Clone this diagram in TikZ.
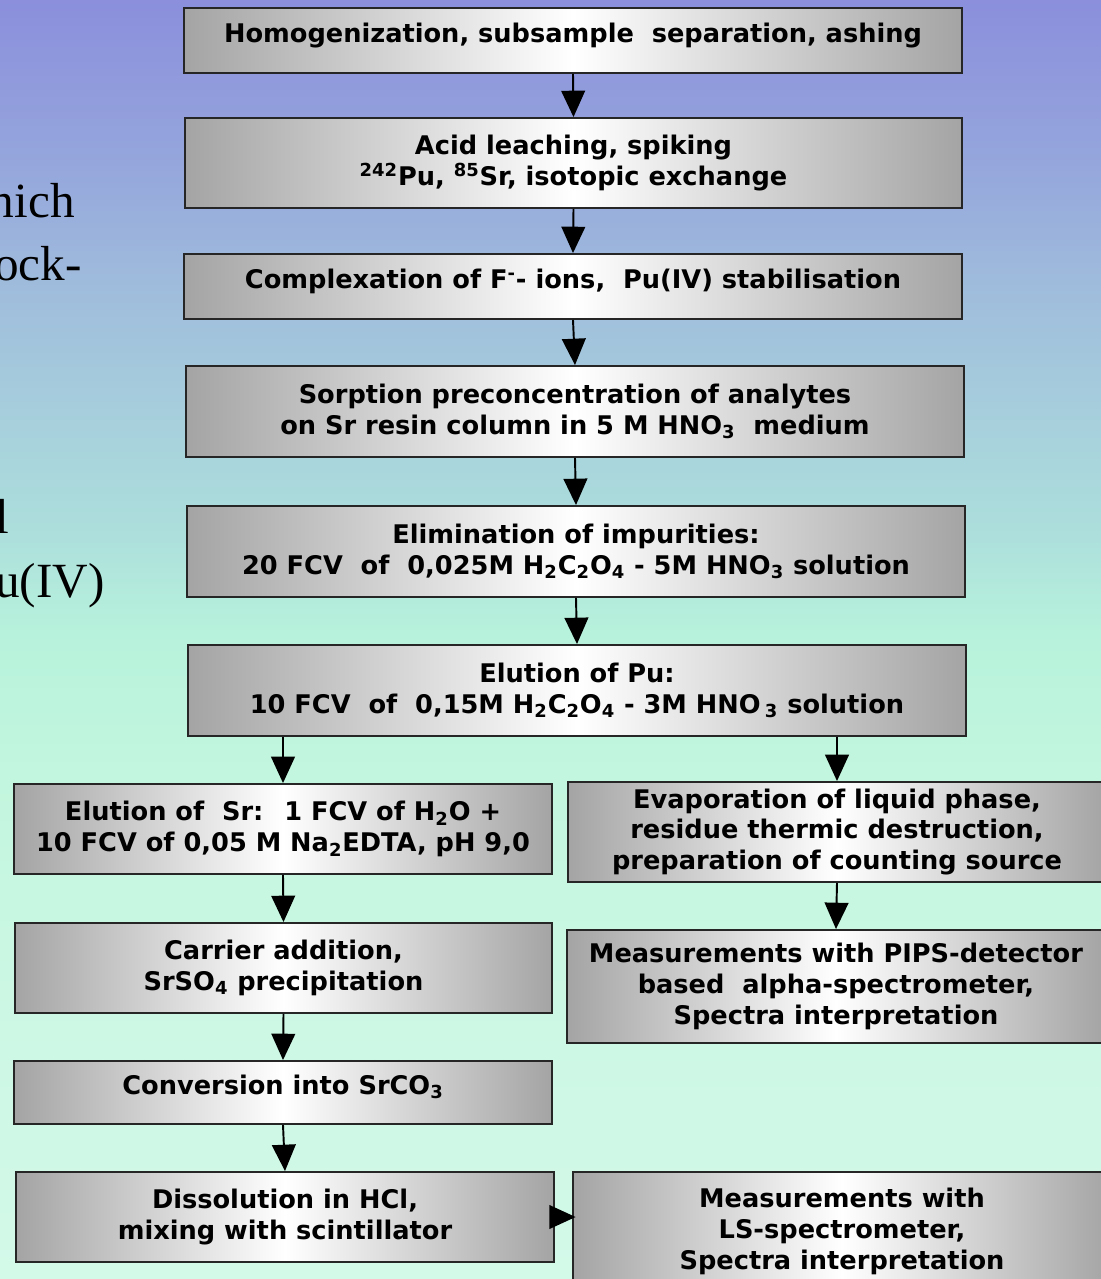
\documentclass[tikz,border=0pt]{standalone}
\usepackage{fontspec}
\usepackage{tikz}
\usetikzlibrary{arrows.meta, positioning}
\newfontfamily\flowfont{DejaVu Sans}
\newfontfamily\slidefont{Liberation Serif}

\definecolor{boxgray}{HTML}{A4A4A4}
\definecolor{bgA}{HTML}{8B8FDC}
\definecolor{bgB}{HTML}{94A4DC}
\definecolor{bgC}{HTML}{A0BEDC}
\definecolor{bgD}{HTML}{ADE0DC}
\definecolor{bgE}{HTML}{B7F2DC}
\definecolor{bgF}{HTML}{C3F6DE}
\definecolor{bgG}{HTML}{CFF8E6}
\definecolor{bgH}{HTML}{D3F9E9}
\pgfdeclareverticalshading{bgfade}{100bp}{color(0bp)=(bgH); color(25bp)=(bgH);
  color(32bp)=(bgG); color(44.5bp)=(bgF); color(50.3bp)=(bgE); color(53.9bp)=(bgD);
  color(63.3bp)=(bgC); color(69.1bp)=(bgB); color(75bp)=(bgA); color(100bp)=(bgA)}

\begin{document}
\begin{tikzpicture}[x=0.02cm, y=-0.02cm, >={Triangle[width=13.5pt,length=15pt]},
  stepbox/.style={draw=black!85, line width=1.1pt, left color=boxgray, right color=boxgray,
    middle color=white, align=center, inner sep=0pt,
    font=\flowfont\bfseries\fontsize{14.6}{17.6}\selectfont},
  widebox/.style={stepbox, minimum width=15.56cm},
  halfbox/.style={stepbox, minimum width=10.76cm},
  oneline/.style={text depth=9pt},
  arr/.style={->, line width=1.1pt},
  sidetext/.style={anchor=base east, inner sep=0pt, font=\slidefont\fontsize{28}{34}\selectfont}]
  % background
  \path[use as bounding box, shading=bgfade] (0,0) rectangle (1101,1279);
  % cut text on the left
  \node[sidetext] (s1) at (75,217) {hich};
  \node[sidetext] (s2) at (82,280) {ock-};
  \node[sidetext] (s3) at (10,533) {l};
  \node[sidetext] (s4) at (105,597) {u(IV)};
  % common steps
  \node[widebox, oneline, minimum height=1.3cm] (hom) at (573,40.5)
    {Homogenization, subsample~ separation, ashing};
  \node[widebox, minimum height=1.8cm] (acid) at (573.5,163)
    {Acid leaching, spiking\\ \textsuperscript{242}Pu, \textsuperscript{85}Sr, isotopic exchange};
  \node[widebox, oneline, minimum height=1.3cm] (cplx) at (573,286.5)
    {Complexation of F\textsuperscript{-}- ions,~ Pu(IV) stabilisation};
  \node[widebox, minimum height=1.82cm] (sorp) at (575,411.5)
    {Sorption preconcentration of analytes\\ on Sr resin column in 5 M HNO\textsubscript{3}~ medium};
  \node[widebox, minimum height=1.82cm] (elim) at (576,551.5)
    {Elimination of impurities:\\ 20 FCV~ of~ 0,025M H\textsubscript{2}C\textsubscript{2}O\textsubscript{4} - 5M HNO\textsubscript{3} solution};
  \node[widebox, minimum height=1.82cm] (elpu) at (577,690.5)
    {Elution of Pu:\\ 10 FCV~ of~ 0,15M H\textsubscript{2}C\textsubscript{2}O\textsubscript{4} - 3M HNO\,\textsubscript{3} solution};
  % Sr branch
  \node[halfbox, minimum height=1.8cm] (elsr) at (283,829)
    {Elution of~ Sr:~ 1 FCV of H\textsubscript{2}O +\\ 10 FCV of 0,05 M Na\textsubscript{2}EDTA, pH 9,0};
  \node[halfbox, minimum height=1.8cm] (carr) at (283.5,968)
    {Carrier addition,\\ SrSO\textsubscript{4} precipitation};
  \node[halfbox, oneline, minimum height=1.26cm] (conv) at (283,1092.5)
    {Conversion into SrCO\textsubscript{3}};
  \node[halfbox, minimum height=1.8cm] (diss) at (285,1217)
    {Dissolution in HCl,\\ mixing with scintillator};
  \node[halfbox, minimum height=2.36cm] (lsm) at (842,1231)
    {Measurements with\\ LS-spectrometer,\\ Spectra interpretation};
  % Pu branch
  \node[halfbox, minimum height=2.0cm] (evap) at (837,832)
    {Evaporation of liquid phase,\\ residue thermic destruction,\\ preparation of counting source};
  \node[halfbox, minimum height=2.26cm] (pips) at (836,986.5)
    {Measurements with PIPS-detector\\ based~ alpha-spectrometer,\\ Spectra interpretation};
  % arrows
  \draw[arr] (hom.south) -- (acid.north);
  \draw[arr] (acid.south) -- (cplx.north);
  \draw[arr] (cplx.south) -- (sorp.north);
  \draw[arr] (sorp.south) -- (elim.north);
  \draw[arr] (elim.south) -- (elpu.north);
  \draw[arr] (elsr.north |- elpu.south) -- (elsr.north);
  \draw[arr] (evap.north |- elpu.south) -- (evap.north);
  \draw[arr] (elsr.south) -- (carr.north);
  \draw[arr] (evap.south) -- (pips.north);
  \draw[arr] (carr.south) -- (conv.north);
  \draw[arr] (conv.south) -- (diss.north);
  \draw[arr, shorten >=-2pt] (diss.east) -- (diss.east -| lsm.west);
\end{tikzpicture}
\end{document}
